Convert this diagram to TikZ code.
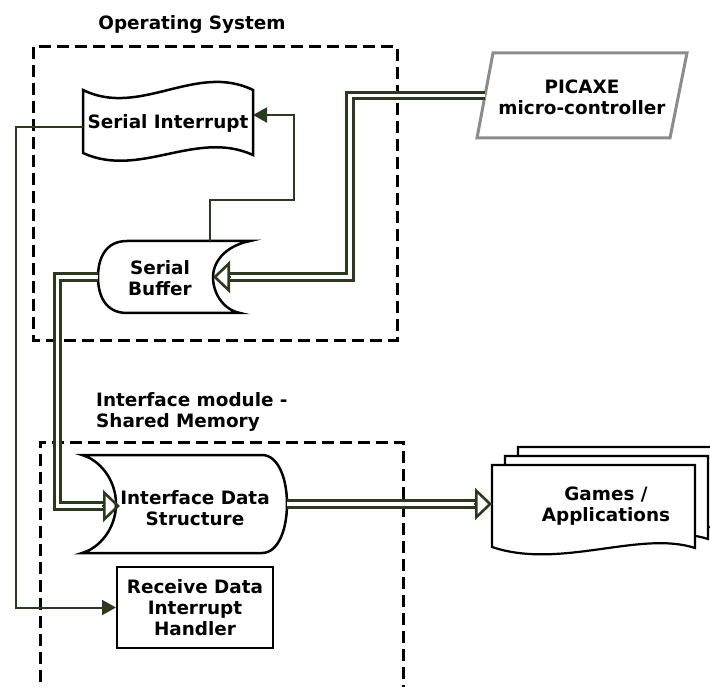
\documentclass[tikz,border=0pt]{standalone}
\usepackage{fontspec}
\setmainfont{DejaVu Sans}
\usetikzlibrary{arrows.meta,calc}
\definecolor{conn}{HTML}{2B3A1E}
\definecolor{pgray}{HTML}{8C8C8C}
\begin{document}
\begin{tikzpicture}[x=1pt,y=-1pt,
  lbl/.style={font=\fontsize{18.4}{21}\selectfont\bfseries, align=center, inner sep=0pt},
  shapeline/.style={draw=black, line width=2.5pt, fill=white},
  docline/.style={draw=black, line width=2.2pt, fill=white},
  grp/.style={draw=black, line width=3pt, dash pattern=on 12pt off 6pt},
  conn1/.style={draw=conn, line width=2pt},
  fillarrow/.style={-{Triangle[length=14pt,width=15pt]}},
  dbl/.style={draw=conn, double=white, line width=2.9pt, double distance=3.6pt},
  openarrow/.style={draw=conn, line width=2.6pt, -{Triangle[open,length=17pt,width=32pt]}}
]
\useasboundingbox (0,0) rectangle (710,687);

% group boxes
\draw[grp] (33,47) rectangle (397,340);
\node[lbl] (os) at (192,24) {Operating System};
\draw[grp] (40,700) -- (40,442) -- (403,442) -- (403,700);
\node[lbl, align=left, anchor=west] (im) at (96,412) {Interface module -\\Shared Memory};

% Serial Interrupt (tape)
\draw[shapeline] (83,90) .. controls (140,118) and (196,62) .. (253,90) -- (253,155)
  .. controls (196,129) and (140,179) .. (83,153) -- cycle;
\node[lbl] (si) at (168,123) {Serial Interrupt};
\coordinate (si-r) at (253,115);
\coordinate (si-l) at (83,127);

% Serial Buffer (stored data)
\draw[shapeline] (127,241) -- (250,241) .. controls (225,246) and (213,262) .. (213,277)
  .. controls (213,294) and (224,310) .. (240,313) -- (127,313)
  .. controls (105,313) and (98,295) .. (98,277) .. controls (98,259) and (105,241) .. (127,241) -- cycle;
\node[lbl] (sb) at (160,278) {Serial\\Buffer};
\coordinate (sb-r) at (213,277);
\coordinate (sb-l) at (98,277);
\coordinate (sb-t) at (210,241);

% PICAXE
\draw[draw=pgray, line width=3pt, fill=white] (493,53) -- (687,53) -- (670,138) -- (477,138) -- cycle;
\node[lbl] (pic) at (582,97) {PICAXE\\micro-controller};
\coordinate (pic-l) at (485,95.5);

% Interface Data Structure
\draw[shapeline] (82,455) -- (262,455) .. controls (278,455) and (287,478) .. (287,504)
  .. controls (287,530) and (278,553) .. (262,553) -- (82,553)
  .. controls (100,548) and (116,528) .. (116,504) .. controls (116,480) and (100,460) .. (82,455) -- cycle;
\node[lbl] (ids) at (195,508) {Interface Data\\Structure};
\coordinate (ids-l) at (120,506);
\coordinate (ids-r) at (287,504);

% Receive Data Interrupt Handler
\node[lbl, draw=black, line width=2pt, minimum width=156pt, minimum height=81pt, fill=white]
  (rd) at (195,607.5) {Receive Data\\Interrupt\\Handler};

% Games / Applications (multi document)
\foreach \dx/\dy in {26/-18, 13/-9, 0/0} {
  \begin{scope}[shift={(\dx,\dy)}]
    \draw[docline] (492,465) -- (695,465) -- (695,548) .. controls (640,530) and (560,570) .. (492,547) -- cycle;
  \end{scope}
}
\node[lbl] (ga) at (606,506) {Games /\\Applications};
\coordinate (ga-l) at (492,504);

% connectors
\draw[conn1, fillarrow] (sb-t) -- (210,200) -- (294,200) |- (si-r);
\draw[conn1, fillarrow] (si-l) -- (16,127) |- (rd.west);

\draw[dbl] (pic-l) -| (350,277) -- ($(sb-r)+(17,0)$);
\draw[openarrow] ($(sb-r)+(18,0)$) -- (sb-r);

\draw[dbl] (sb-l) -- (57.5,277) |- ($(ids-l)+(-17,0)$);
\draw[openarrow] ($(ids-l)+(-18,0)$) -- (ids-l);

\draw[dbl] (ids-r) -- ($(ga-l)+(-17,0)$);
\draw[openarrow] ($(ga-l)+(-18,0)$) -- (ga-l);
\end{tikzpicture}
\end{document}
